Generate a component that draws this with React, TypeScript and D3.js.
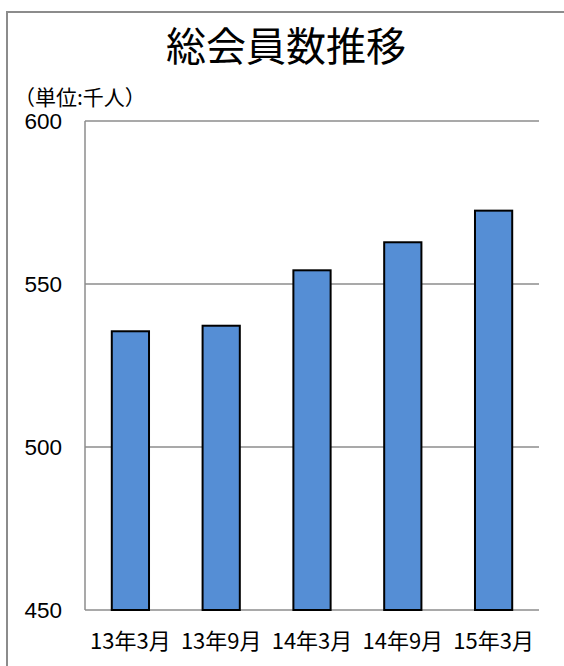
import * as d3 from 'd3';

const categories = ['13年3月', '13年9月', '14年3月', '14年9月', '15年3月'];
const members = [535.5, 537.2, 554.2, 562.8, 572.5];
const yTicks = [450, 500, 550, 600];

const W = 564;
const H = 666;
const plot = { left: 85, right: 539, top: 121, bottom: 610 };

export default function App() {
  const x = d3.scaleBand<string>()
    .domain(categories)
    .range([plot.left, plot.right])
    .paddingInner(0.59)
    .paddingOuter(0.295);
  const y = d3.scaleLinear().domain([450, 600]).range([plot.bottom, plot.top]);

  const jp = '"Noto Sans CJK JP", "Noto Sans", sans-serif';

  return (
    <svg
      width={W}
      height={H}
      viewBox={`0 0 ${W} ${H}`}
      style={{ position: 'absolute', left: 0, top: 0, background: '#fff' }}
    >
      {/* outer frame, open at right and bottom */}
      <rect x={7} y={12} width={W + 20} height={H + 20} fill="#fff" stroke="#8c8c8c" strokeWidth={2} />

      <text x={286} y={61} textAnchor="middle" fontFamily={jp} fontSize={40} fill="#000">
        総会員数推移
      </text>
      <text x={14} y={105} fontFamily={jp} fontSize={21} fill="#000">
        （単位:千人）
      </text>

      {/* gridlines */}
      {yTicks.map((t) => (
        <g key={t}>
          <line x1={plot.left} x2={plot.right} y1={y(t)} y2={y(t)} stroke="#8c8c8c" strokeWidth={1.5} />
          <text
            x={62}
            y={y(t)}
            dy="0.36em"
            textAnchor="end"
            fontFamily='"Liberation Sans", Arial, sans-serif'
            fontSize={22.5}
            fill="#000"
          >
            {t}
          </text>
        </g>
      ))}
      <line x1={plot.left} x2={plot.left} y1={plot.top} y2={plot.bottom} stroke="#8c8c8c" strokeWidth={1.5} />

      {/* bars */}
      {categories.map((c, i) => (
        <rect
          key={c}
          x={x(c)}
          y={y(members[i])}
          width={x.bandwidth()}
          height={y(450) - y(members[i])}
          fill="#558ed5"
          stroke="#000"
          strokeWidth={2}
        />
      ))}

      {/* category labels */}
      {categories.map((c) => (
        <text
          key={c}
          x={(x(c) ?? 0) + x.bandwidth() / 2}
          y={649}
          textAnchor="middle"
          fontFamily={jp}
          fontSize={22}
          fill="#000"
        >
          {c}
        </text>
      ))}
    </svg>
  );
}
